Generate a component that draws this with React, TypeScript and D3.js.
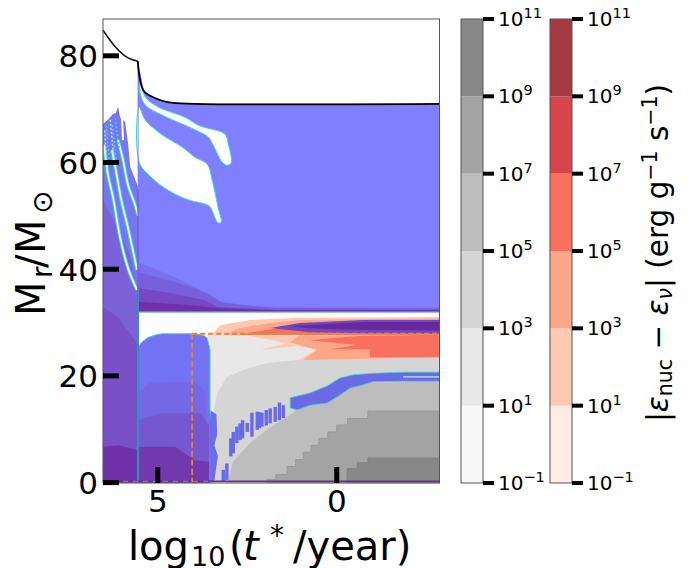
import React from "react";
import * as d3 from "d3";

type P = [number, number];

// log10(t*/yr), Mr/Msun
const surface: P[] = [[6.53,84.8],[6.2,81.8],[5.92,80],[5.72,79.3],[5.56,79],[5.39,73.4],[5.08,72.1],[4.72,71.3],[3.97,71],[-2.87,71]];
const envelope: P[] = [[5.55,79],[5.39,73.4],[5.08,72.1],[4.72,71.3],[3.97,71],[-2.87,71],[-2.87,32.2],[5.55,32.2]];
const envA: P[] = [[5.55,41.3],[4.7,39],[3.96,36.7],[3.4,34.2],[2.6,33.2],[1.72,32.9],[-2.87,32.8],[-2.87,32.1],[5.55,32.1]];
const envB: P[] = [[5.55,39.5],[4.43,37.4],[3.6,35.5],[3.2,33.7],[1.72,32.7],[-2.87,32.6],[-2.87,32.1],[5.55,32.1]];
const envC: P[] = [[5.55,36.5],[4.6,35.5],[3.68,34.2],[3.32,32.9],[1.72,32.4],[-2.87,32.4],[-2.87,32.1],[5.55,32.1]];
const envD: P[] = [[5.55,33.9],[4.15,33.3],[3.32,32.7],[1.72,32.3],[-2.87,32.3],[-2.87,32.1],[5.55,32.1]];
const holeUpper: P[] = [[5.49,75.1],[5.35,72.3],[4.99,70.4],[4.24,68.5],[3.87,67],[3.12,65.3],[3.04,63.7],[2.95,59.9],[3.06,59.5],[3.18,59.9],[3.59,64.8],[3.76,65.5],[4.24,67],[4.88,68.9],[5.35,70.8],[5.49,73]];
const holeLower: P[] = [[5.52,70.4],[5.35,68],[4.88,65.2],[4.32,62.9],[3.96,61],[3.62,59.7],[3.48,56.7],[3.32,51.7],[3.23,48.8],[3.32,48.7],[3.54,51.7],[3.68,52.2],[4.15,53],[4.71,54.8],[5.16,57.1],[5.52,60.1]];
const leftBlue: P[] = [[6.53,67.2],[6.39,68],[6.25,69.1],[6.17,69.3],[6.11,70.5],[6.05,68.4],[5.91,67.6],[5.83,63.6],[5.77,59.2],[5.55,55.4],[5.55,0],[6.53,0]];
const leftP1: P[] = [[6.53,53],[6.19,48.7],[5.83,43.6],[5.55,36.1],[5.55,0],[6.53,0]];
const leftP2: P[] = [[6.53,32.9],[6.11,31],[5.58,26.2],[5.55,0],[6.53,0]];
const leftP3: P[] = [[6.53,6.7],[6.11,7],[5.58,6.1],[5.55,0],[6.53,0]];
const stripeA: P[] = [[6.5,63.3],[6.39,57.7],[6.25,53.5],[6.05,45.9],[5.83,40.2],[5.58,36.1]];
const stripeB: P[] = [[6.28,62.3],[6.16,58.2],[6.02,53],[5.83,47.7],[5.58,39.9]];
const stripeC: P[] = [[6.11,64.2],[5.97,60.5],[5.83,55.8],[5.63,52],[5.55,50]];
const noise1: P[] = [[6.44,67],[6.36,60.5]];
const noise2: P[] = [[6.33,68],[6.22,60.5]];
const noise3: P[] = [[6.19,68.3],[6.07,62.3]];
const noise4: P[] = [[6.48,66],[6.42,58]];
const noise5: P[] = [[6.27,67],[6.14,59]];
const sliver: P[] = [[6,68.4],[5.97,64.2]];
const core: P[] = [[5.55,25.4],[5.45,26.3],[5.27,27.2],[5.05,27.7],[4.88,27.9],[4.04,27.9],[3.72,27.6],[3.62,27.1],[3.54,24.9],[3.54,13.6],[3.43,8],[3.5,0],[5.55,0]];
const coreB: P[] = [[5.55,16.8],[5.21,18.7],[3.96,18.9],[3.68,17],[3.57,0],[5.55,0]];
const coreC: P[] = [[5.55,11.7],[4.93,13],[3.82,13],[3.57,10.8],[3.57,0],[5.55,0]];
const coreD: P[] = [[5.55,6.7],[4.52,6.7],[3.96,4.2],[3.57,3.9],[3.57,0],[5.55,0]];
const grey1: P[] = [[3.62,27.9],[-2.87,27.9],[-2.87,0],[3.52,0],[3.54,24]];
const grey2: P[] = [[3.51,0],[3.45,13],[3.34,16.8],[3.06,19.8],[2.62,21.1],[1.95,22.4],[1.11,23],[-2.87,23.5],[-2.87,0]];
const grey3: P[] = [[3.04,0],[2.9,3.9],[2.42,7.4],[1.95,9.9],[1.39,12.3],[0.94,14.5],[0.27,16.4],[-0.73,18.7],[-2.87,19],[-2.87,0]];
const grey4: P[] = [[1.95,0],[1.95,0.6],[1.7,0.6],[1.7,1.5],[1.39,1.5],[1.39,3],[1.15,3],[1.15,4.3],[0.94,4.3],[0.94,5.7],[0.72,5.7],[0.72,7],[0.5,7],[0.5,8.3],[0.25,8.3],[0.25,9.5],[0,9.5],[0,10.8],[-0.3,10.8],[-0.3,12],[-0.87,12],[-0.87,13.4],[-2.87,13.4],[-2.87,0]];
const grey5: P[] = [[-0.29,0],[-0.29,2.6],[-0.57,2.6],[-0.57,3.7],[-0.87,3.7],[-0.87,4.6],[-2.87,4.6],[-2.87,0]];
const ribbon: P[] = [[-2.87,20.7],[-1.85,20.7],[-1.01,20.5],[-0.46,20.2],[-0.09,19.6],[0.27,18.1],[0.75,16.8],[1.3,15.9],[1.3,14],[1.11,13.6],[0.75,14.5],[0.27,14.9],[-0.09,16.4],[-0.37,17.7],[-0.73,18.3],[-1.01,18.9],[-1.85,19],[-2.87,19]];
const ribbonLight: P[] = [[-1.85,19.8],[-2.87,19.8]];
const combX = [1.49,1.6,1.72,1.86,1.97,2.09,2.16,2.22,2.37,2.5,2.63,2.7,2.79,2.89,2.96,3.07,3.17];
const combTop = [14.5,15,14.2,13.9,13.6,13.1,13.2,13.3,13.1,11.2,11.7,11.1,10.5,9.5,8.3,3.6,2.4];
const combBottom = [12.1,11.7,11.4,11.1,10.7,10.5,10.2,9.9,8.6,9.5,8.3,8,7.4,5.5,4.9,0.5,0.2];
const noiseStrip: P[] = [[3.52,13.5],[3.36,12.8],[3.34,9],[3.42,7],[3.32,5],[3.42,0.3],[3.52,0.3],[3.5,5],[3.56,8]];
const redUp1: P[] = [[3.48,27.7],[3.26,29.5],[2.42,30.5],[1.03,30.9],[-2.87,31],[-2.87,27.7]];
const redUp2: P[] = [[3.12,27.7],[2.7,29],[1.86,29.9],[1.03,30.5],[-2.87,30.8],[-2.87,27.7]];
const redUp3: P[] = [[2.76,27.7],[2,28.6],[1.03,29.4],[0.19,30.1],[-2.87,30.5],[-2.87,27.7]];
const purpUp1: P[] = [[1.86,29],[1.03,29.9],[-0.73,30.5],[-2.87,30.5],[-2.87,27.9],[-0.73,28],[0.75,28.2]];
const purpUp2: P[] = [[1.3,29.3],[-0.73,30.1],[-2.87,30.1],[-2.87,28.5],[-0.73,28.6],[0.75,28.9]];
const redLow1: P[] = [[2.42,27.5],[1.39,26.1],[2.14,24.9],[1.11,25.6],[0.55,24.9],[1.08,23],[-2.87,23.5],[-2.87,27.5]];
const redLow2: P[] = [[1.3,26.3],[1.03,27.6],[-2.87,27.6],[-2.87,23.5],[0.94,23],[0.55,24.9]];
const redLow3: P[] = [[0.75,26.7],[-0.57,27.5],[-2.87,27.7],[-2.87,23.5],[-0.93,23.5],[-0.93,25],[0.19,25],[-0.87,26.1],[-0.57,25.8]];
const dashH: P[] = [[4.04,27.9],[-2.87,27.9]];
const dashV: P[] = [[4.04,27.9],[4.04,0]];
const dashB: P[] = [[6.53,0.25],[-2.87,0.25]];
const dashB2: P[] = [[6.53,0.25],[3.5,0.25]];
const xTicks = [5, 0];
const yTicks = [0, 20, 40, 60, 80];
const cbarExps = [-1, 1, 3, 5, 7, 9, 11];
const greyCols = ["#f7f7f7","#e8e8e8","#d5d5d5","#bdbdbd","#a3a3a3","#888888"];
const redCols = ["#feece5","#fdc9b3","#fca68a","#f9705e","#d7444c","#a63a42"];

const x = d3.scaleLinear().domain([6.53, -2.87]).range([103, 439.5]);
const y = d3.scaleLinear().domain([0, 86.9]).range([482.6, 19]);
const cb = d3.scaleLinear().domain([-1, 11]).range([483, 19]);
const lin = d3.line<P>().x(d => x(d[0])).y(d => y(d[1]));
const poly = (p: P[]) => lin(p) + "Z";
const curve = d3.line<P>().x(d => x(d[0])).y(d => y(d[1])).curve(d3.curveCatmullRom);
const blob = d3.line<P>().x(d => x(d[0])).y(d => y(d[1])).curve(d3.curveCatmullRomClosed);

const FONT = "DejaVu Sans";

const Fill = ({ p, c, s }: { p: P[]; c: string; s?: string }) => (
  <path d={poly(p)} fill={c} stroke={s ?? "none"} strokeWidth={s ? 1 : 0} />
);

function Stripe({ p }: { p: P[] }) {
  return (
    <g fill="none">
      <path d={curve(p)!} stroke="#45d0d0" strokeWidth={3.6} />
      <path d={curve(p)!} stroke="#f4efe6" strokeWidth={1.7} />
    </g>
  );
}

function Cbar({ left, cols }: { left: number; cols: string[] }) {
  const w = 22;
  return (
    <g>
      {cols.map((c, i) => (
        <rect key={i} x={left} width={w} y={cb(cbarExps[i + 1])} height={cb(cbarExps[i]) - cb(cbarExps[i + 1])} fill={c} />
      ))}
      <rect x={left} y={19} width={w} height={464} fill="none" stroke="#555" strokeWidth={1} />
      {cbarExps.map(e => (
        <g key={e}>
          <line x1={left + w} x2={left + w + 11} y1={cb(e)} y2={cb(e)} stroke="#000" strokeWidth={4} />
          <text x={left + w + 15} y={cb(e) + 7} fontSize={20} fontFamily={FONT}>
            10<tspan fontSize={14.5} dy={-8}>{e < 0 ? "\u2212" + -e : e}</tspan>
          </text>
        </g>
      ))}
    </g>
  );
}

export default function App() {
  return (
    <svg width={689} height={568} style={{ position: "absolute", left: 0, top: 0 }}>
      <rect width={689} height={568} fill="#fff" />
      <Fill p={envelope} c="#7f7fff" />
      <Fill p={envA} c="#7a70ee" />
      <Fill p={envB} c="#7860dc" />
      <Fill p={envC} c="#7648c4" />
      <Fill p={envD} c="#7030a8" />
      <path d={blob(holeUpper)!} fill="#fff" stroke="#45d8d0" strokeWidth={1} />
      <path d={blob(holeLower)!} fill="#fff" stroke="#45d8d0" strokeWidth={1} />

      <Fill p={leftBlue} c="#7478f0" />
      <Fill p={leftP1} c="#7c62d8" />
      <Fill p={leftP2} c="#7a50c8" />
      <Fill p={leftP3} c="#7030a8" />
      {[stripeA, stripeB, stripeC].map((s, i) => <Stripe key={i} p={s} />)}
      {[noise1, noise2, noise3, noise4, noise5].map((s, i) => (
        <path key={i} d={curve(s)!} fill="none" stroke={i % 2 ? "#b0e8f0" : "#50c8e0"} strokeWidth={1.5} strokeDasharray="2 2" />
      ))}
      <path d={lin(sliver)!} fill="none" stroke="#fff" strokeWidth={2} />

      <Fill p={grey1} c={greyCols[1]} />
      <Fill p={grey2} c={greyCols[2]} />
      <Fill p={grey3} c={greyCols[3]} />
      <Fill p={grey4} c={greyCols[4]} s="#999" />
      <Fill p={grey5} c={greyCols[5]} s="#808080" />

      <Fill p={core} c="#7272f2" s="#45d0d0" />
      <Fill p={coreB} c="#7468e4" />
      <Fill p={coreC} c="#7558d0" />
      <Fill p={coreD} c="#7238ae" />

      <Fill p={redUp1} c={redCols[1]} />
      <Fill p={redUp2} c={redCols[2]} />
      <Fill p={redUp3} c={redCols[3]} />
      <Fill p={purpUp1} c="#7048c0" />
      <Fill p={purpUp2} c="#6a28a0" />
      <Fill p={redLow1} c={redCols[1]} />
      <Fill p={redLow2} c={redCols[2]} />
      <Fill p={redLow3} c={redCols[3]} />

      <Fill p={noiseStrip} c="#6c6ce8" />
      {combX.map((v, i) => (
        <rect key={i} x={x(v) - 1.7} width={3.4} y={y(combTop[i])} height={y(combBottom[i]) - y(combTop[i])} fill="#6a6ae6" />
      ))}
      <path d={poly(ribbon)} fill="#6a6ae6" stroke="#45d0d0" strokeWidth={0.8} />
      <path d={lin(ribbonLight)!} stroke="#c8e4d8" strokeWidth={1.2} fill="none" />

      <line x1={x(5.55)} x2={x(5.55)} y1={y(36)} y2={y(0)} stroke="#2f90c0" strokeWidth={2} />
      <line x1={x(5.55)} x2={x(5.55)} y1={y(55)} y2={y(36)} stroke="#7a5fd0" strokeWidth={1.5} />
      <line x1={x(5.55)} x2={x(5.55)} y1={y(79)} y2={y(55)} stroke="#8080ff" strokeWidth={1} />
      <line x1={x(5.55)} x2={x(-2.87)} y1={y(32)} y2={y(32)} stroke="#2f90c0" strokeWidth={1.3} />

      <path d={lin(dashB)!} stroke="#6a2aa0" strokeWidth={1.5} fill="none" />
      <path d={lin(dashB2)!} stroke="#d08050" strokeWidth={1} strokeDasharray="5 5" fill="none" />
      <path d={lin(dashH)!} stroke="#ee8030" strokeWidth={1.8} strokeDasharray="5 3" fill="none" />
      <path d={lin(dashV)!} stroke="#e88038" strokeWidth={1.8} strokeDasharray="6 3" fill="none" />

      <path d={curve(surface.slice(0, 5))!} fill="none" stroke="#111" strokeWidth={1.5} />
      <path d={curve(surface.slice(4))!} fill="none" stroke="#000" strokeWidth={1.8} />

      <rect x={103} y={19} width={336.5} height={464} fill="none" stroke="#555" strokeWidth={1} />

      {xTicks.map(t => (
        <g key={t}>
          <line x1={x(t)} x2={x(t)} y1={483} y2={467} stroke="#000" strokeWidth={5} />
          <text x={x(t)} y={512} textAnchor="middle" fontSize={31} fontFamily={FONT}>{t}</text>
        </g>
      ))}
      {yTicks.map(t => (
        <g key={t}>
          <line x1={103} x2={119} y1={y(t)} y2={y(t)} stroke="#000" strokeWidth={5} />
          <text x={98} y={y(t) + 11.5} textAnchor="end" fontSize={31} fontFamily={FONT}>{t}</text>
        </g>
      ))}

      <text y={560} fontSize={40} fontFamily={FONT}>
        <tspan x={128}>log</tspan><tspan x={191} fontSize={27} dy={6}>10</tspan><tspan x={229} dy={-6}>(</tspan><tspan x={243} fontStyle="italic">t</tspan><tspan x={270} fontSize={28} dy={-15}>*</tspan><tspan x={293} dy={15}>/year)</tspan>
      </text>
      <text transform="translate(45,316) rotate(-90)" fontSize={40} fontFamily={FONT}>
        <tspan x={0}>M</tspan><tspan x={38} fontSize={28} dy={7}>r</tspan><tspan x={48} dy={-7}>/</tspan><tspan x={62}>M</tspan><tspan x={102} fontSize={28} dy={7}>⊙</tspan>
      </text>

      <Cbar left={461} cols={greyCols} />
      <Cbar left={550} cols={redCols} />
      <text transform="translate(668,253) rotate(-90)" textAnchor="middle" fontSize={29.5} fontFamily={FONT}>
        |<tspan fontStyle="italic">ε</tspan><tspan fontSize={20.5} dy={4}>nuc</tspan><tspan dy={-4}> − </tspan><tspan fontStyle="italic">ε</tspan><tspan fontSize={20.5} dy={4} fontStyle="italic">ν</tspan><tspan dy={-4}>| (erg g</tspan><tspan fontSize={20.5} dy={-11}>−1</tspan><tspan dy={11}> s</tspan><tspan fontSize={20.5} dy={-11}>−1</tspan><tspan dy={11}>)</tspan>
      </text>
    </svg>
  );
}
